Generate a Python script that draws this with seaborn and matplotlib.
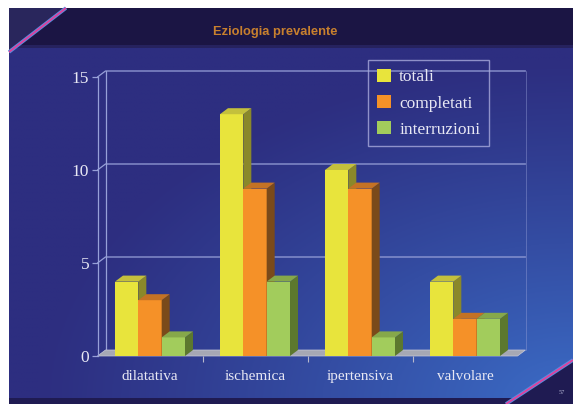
import numpy as np
import pandas as pd
import matplotlib
matplotlib.use("Agg")
import matplotlib.pyplot as plt
from matplotlib.patches import Polygon, Patch, Rectangle
from matplotlib.colors import to_rgb
import seaborn as sns

# ---- data ----
categories = ["dilatativa", "ischemica", "ipertensiva", "valvolare"]
series = ["totali", "completati", "interruzioni"]
totali = [4, 13, 10, 4]
completati = [3, 9, 9, 2]
interruzioni = [1, 4, 1, 2]
y_ticks = [0, 5, 10, 15]
title = "Eziologia prevalente"
page_no = "57"

front_colors = ["#e8e43c", "#f59128", "#a2cc5c"]
top_colors = ["#c4c03c", "#c47224", "#86a84a"]
side_colors = ["#8a882a", "#7a4a1a", "#5c782e"]
text_col = "#e8e8f4"
line_col = "#97a0d8"

df = pd.DataFrame({
    "categoria": categories * 3,
    "serie": [s for s in series for _ in categories],
    "valore": totali + completati + interruzioni,
})

sns.set_theme(style="white")
plt.rcParams["font.family"] = ["Liberation Serif", "DejaVu Serif"]

W, H = 573, 404
fig = plt.figure(figsize=(W / 100, H / 100), dpi=100)
fig.patch.set_facecolor("white")

# ---- slide background (pixel coordinates) ----
bg = fig.add_axes([0, 0, 1, 1])
bg.set_xlim(0, W)
bg.set_ylim(H, 0)
bg.axis("off")

x0s, y0s = 9, 8
gx = np.linspace(0, 1, 300)
gy = np.linspace(0, 1, 220)
U, V = np.meshgrid(gx, gy)
d = np.sqrt((1 - U) ** 2 + 1.2 * (1 - V) ** 2)
t = np.clip(1 - d / 0.95, 0, 1) ** 1.1
c0 = np.array(to_rgb("#2d2e80"))
c1 = np.array(to_rgb("#3b6cc6"))
img = c0[None, None, :] * (1 - t[..., None]) + c1[None, None, :] * t[..., None]
bg.imshow(img, extent=[x0s, W, H, y0s], aspect="auto", zorder=0)

# title bar
bg.add_patch(Polygon([[x0s, y0s], [W, y0s], [W, 45], [x0s, 45]],
                     closed=True, fc="#1b1544", ec="none", zorder=1))
bg.add_patch(Polygon([[x0s, 45], [W, 45], [W, 47.5], [x0s, 47.5]],
                     closed=True, fc="#26225e", ec="none", zorder=1))
# top-left corner accent
bg.add_patch(Polygon([[x0s, y0s], [66, y0s], [x0s, 52]],
                     closed=True, fc="#29265c", ec="none", zorder=2))
bg.plot([x0s, 66], [52, y0s], color="#5a8ee0", lw=2.6, zorder=3, solid_capstyle="butt")
bg.plot([x0s, 66], [52, y0s], color="#e0409c", lw=1.3, zorder=4, solid_capstyle="butt")
# bottom strip
bg.add_patch(Polygon([[x0s, 398], [W, 398], [W, H], [x0s, H]],
                     closed=True, fc="#1f1b52", ec="none", zorder=1))
# bottom-right corner accent
bg.add_patch(Polygon([[506, H], [W, 360], [W, H]],
                     closed=True, fc="#1f1b52", ec="none", zorder=2))
bg.plot([506, W], [H, 360], color="#5a8ee0", lw=2.6, zorder=3, solid_capstyle="butt")
bg.plot([506, W], [H, 360], color="#e0409c", lw=1.3, zorder=4, solid_capstyle="butt")

bg.text(275, 32, title, ha="center", va="center", fontsize=9.3, fontweight="bold",
        color="#c8802e", family=["Liberation Sans", "DejaVu Sans"], zorder=5)
bg.text(562, 392, page_no, ha="center", va="center", fontsize=4.5, color="#b0b0d0", zorder=5)

# ---- chart ----
ax = fig.add_axes([97.5 / W, 48 / H, 420 / W, 279 / H])
ax.set_facecolor("none")
sns.barplot(data=df, x="categoria", y="valore", hue="serie", order=categories,
            hue_order=series, palette=front_colors, width=0.667, saturation=1,
            dodge=True, legend=False, ax=ax, errorbar=None)
bars = sorted([p for p in ax.patches if isinstance(p, Rectangle) and p.get_height() > 0],
              key=lambda p: p.get_x())
ax.set_xlim(-0.5, 3.5)
ax.set_ylim(0, 15)

# depth offset for the 3D look (pixels -> data units)
bb = ax.get_position()
ax_w_px = bb.width * W
ax_h_px = bb.height * H
dx = 8 * 4.0 / ax_w_px
dy = 6 * 15.0 / ax_h_px

# back wall: gridlines, edges
for v in y_ticks[1:]:
    ax.plot([-0.5, -0.5 + dx, 3.5 + dx], [v, v + dy, v + dy], color=line_col, lw=0.9,
            zorder=1, clip_on=False)
ax.plot([-0.5 + dx, -0.5 + dx], [dy, 15 + dy], color=line_col, lw=0.9, zorder=1, clip_on=False)
ax.plot([3.5 + dx, 3.5 + dx], [dy, 15 + dy], color=line_col, lw=0.6, alpha=0.5,
        zorder=1, clip_on=False)
# floor
ax.add_patch(Polygon([[-0.5, 0], [3.5, 0], [3.5 + dx, dy], [-0.5 + dx, dy]], closed=True,
                     fc="#a6a8b4", ec="#c8c8d8", lw=0.5, zorder=1.5, clip_on=False))

# 3D faces for every bar, drawn left to right so nearer faces cover farther ones
for i, p in enumerate(bars):
    x, w, h = p.get_x(), p.get_width(), p.get_height()
    k = front_colors.index(matplotlib.colors.to_hex(p.get_facecolor()))
    z = 2 + i * 0.01
    p.set_zorder(z)
    p.set_edgecolor("none")
    ax.add_patch(Polygon([[x + w, 0], [x + w + dx, dy], [x + w + dx, h + dy], [x + w, h]],
                         closed=True, fc=side_colors[k], ec="none", zorder=z + 0.003,
                         clip_on=False))
    ax.add_patch(Polygon([[x, h], [x + w, h], [x + w + dx, h + dy], [x + dx, h + dy]],
                         closed=True, fc=top_colors[k], ec="none", zorder=z + 0.006,
                         clip_on=False))

# axes styling
for s in ["top", "right", "bottom"]:
    ax.spines[s].set_visible(False)
ax.spines["left"].set_color(line_col)
ax.spines["left"].set_linewidth(0.9)
ax.set_yticks(y_ticks)
ax.set_yticklabels([str(v) for v in y_ticks])
ax.tick_params(axis="y", colors=line_col, labelcolor=text_col, labelsize=12.5, length=4,
               width=0.9, pad=2, left=True)
ax.set_xticks(range(len(categories)))
ax.set_xticklabels(categories)
ax.tick_params(axis="x", which="major", length=0, labelcolor=text_col, labelsize=11, pad=10)
ax.set_xticks([0.5, 1.5, 2.5], minor=True)
ax.tick_params(axis="x", which="minor", length=4, width=0.8, color="#b8b8cc", bottom=True)
ax.set_xlabel("")
ax.set_ylabel("")

handles = [Patch(fc=c, ec="none") for c in front_colors]
leg = fig.legend(handles, series, loc="upper left",
                 bbox_to_anchor=(368 / W, 1 - 60 / H), frameon=True, fancybox=False,
                 fontsize=12.5, handlelength=0.8, handleheight=0.8, handletextpad=0.5,
                 labelspacing=0.55, borderpad=0.5, borderaxespad=0)
leg.get_frame().set_facecolor("none")
leg.get_frame().set_edgecolor("#a8aadc")
leg.get_frame().set_linewidth(1.0)
for txt in leg.get_texts():
    txt.set_color(text_col)

fig.savefig("out.png", dpi=100)
